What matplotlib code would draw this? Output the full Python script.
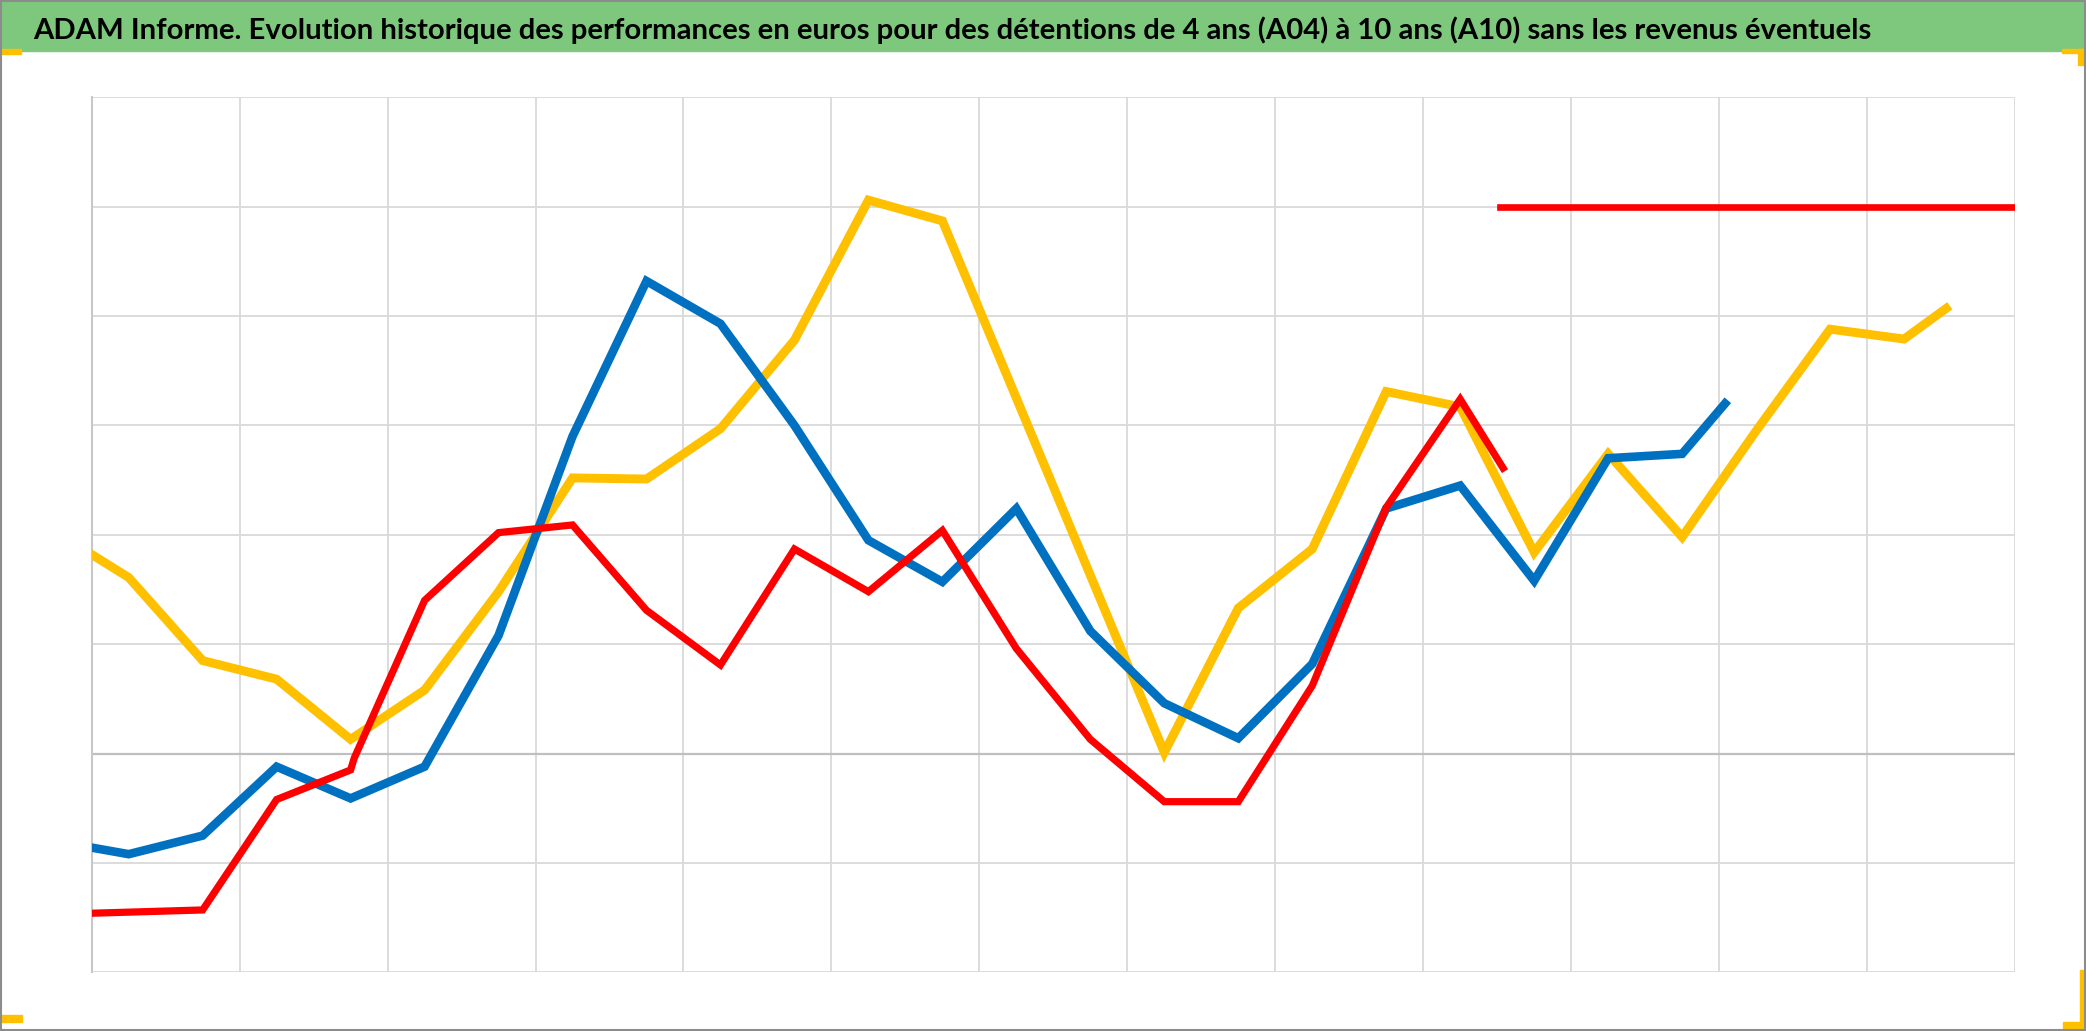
import matplotlib
matplotlib.use("Agg")
import matplotlib.pyplot as plt
from matplotlib.patches import Rectangle

W, H = 2086, 1031

title = ("ADAM Informe. Evolution historique des performances en euros pour des "
         "détentions de 4 ans (A04) à 10 ans (A10) sans les revenus éventuels")

# series (x in half-gridline steps, y in gridline units)
yellow_x = [0, 0.5, 1.5, 2.5, 3.5, 4.5, 5.5, 6.5, 7.5, 8.5, 9.5, 10.5, 11.5, 12.5,
            13.5, 14.5, 15.5, 16.5, 17.5, 18.5, 19.5, 20.5, 21.5, 22.5, 23.5, 24.5, 25.07]
yellow_y = [1.82, 1.61, 0.85, 0.68, 0.13, 0.58, 1.48, 2.52, 2.51, 2.97, 3.78, 5.06, 4.87, 3.25,
            1.63, 0.01, 1.33, 1.87, 3.31, 3.17, 1.84, 2.74, 1.98, 2.95, 3.88, 3.79, 4.07]

blue_x = [0, 0.5, 1.5, 2.5, 3.5, 4.5, 5.5, 6.5, 7.5, 8.5, 9.5, 10.5, 11.5, 12.5,
          13.5, 14.5, 15.5, 16.5, 17.5, 18.5, 19.5, 20.5, 21.5, 22.08]
blue_y = [-0.86, -0.92, -0.75, -0.12, -0.41, -0.12, 1.08, 2.9, 4.32, 3.93, 3.0, 1.95, 1.57, 2.24,
          1.12, 0.46, 0.14, 0.82, 2.24, 2.45, 1.58, 2.70, 2.74, 3.20]

red_x = [0, 0.5, 1.5, 2.5, 3.5, 3.55, 4.5, 5.5, 6.5, 7.5, 8.5, 9.5, 10.5, 11.5, 12.5,
         13.5, 14.5, 15.5, 16.5, 17.5, 18.5, 19.08]
red_y = [-1.46, -1.45, -1.43, -0.42, -0.15, -0.04, 1.40, 2.02, 2.09, 1.31, 0.81, 1.87, 1.48, 2.04,
         0.96, 0.13, -0.44, -0.44, 0.62, 2.25, 3.24, 2.61]

red_flat_x = [19.04, 26.0]
red_flat_y = [5.0, 5.0]

fig = plt.figure(figsize=(W / 100, H / 100), dpi=100)
fig.patch.set_facecolor("white")


def px_rect(x0, y0, x1, y1, color, **kw):
    # pixel box (y from top) -> figure fraction rectangle
    r = Rectangle((x0 / W, 1 - y1 / H), (x1 - x0) / W, (y1 - y0) / H,
                  transform=fig.transFigure, color=color, zorder=5, **kw)
    fig.patches.append(r)


# green title band
px_rect(0, 0, W, 51, "#7dc87c")
t = fig.text(33 / W, 1 - 39 / H, title, fontsize=20, fontweight="bold",
             family=["DejaVu Sans Condensed", "Lato", "DejaVu Sans"],
             fontstretch="condensed", color="black",
             ha="left", va="baseline", zorder=6)
fig.canvas.draw()
bb = t.get_window_extent()
t.set_fontsize(20 * 1842 / bb.width)

# orange corner handles
gold = "#ffc000"
px_rect(0, 49, 21, 54, gold)
px_rect(2062, 49, 2084, 53, gold)
px_rect(2078, 49, 2084, 65, gold)
px_rect(0, 1015, 22, 1022, gold)
px_rect(2080, 970, 2085, 1029, gold)
px_rect(2063, 1022, 2085, 1029, gold)

# thin grey frame
fig.patches.append(Rectangle((0.0005, 0.001), 0.999, 0.998, transform=fig.transFigure,
                             fill=False, edgecolor="#8c8c8c", lw=1.5, zorder=7))

ax = fig.add_axes([91.7 / W, (H - 972.3) / H, (2015 - 91.7) / W, (972.3 - 97.3) / H])
ax.set_xlim(0, 26)
ax.set_ylim(-2, 6)
ax.set_xticks(range(0, 27, 2))
ax.set_yticks(range(-2, 7))
ax.grid(True, color="#d9d9d9", lw=1.3)
ax.axhline(0, color="#bfbfbf", lw=1.6, zorder=1)
ax.tick_params(length=0, labelbottom=False, labelleft=False)
for s in ["top", "right", "bottom"]:
    ax.spines[s].set_visible(False)
ax.spines["left"].set_color("#c8c8c8")
ax.spines["left"].set_linewidth(1.5)
ax.set_axisbelow(True)

ax.plot(yellow_x, yellow_y, color="#ffc000", lw=6.4, solid_joinstyle="miter", zorder=3)
ax.plot(blue_x, blue_y, color="#0070c0", lw=6.2, solid_joinstyle="miter", zorder=4)
ax.plot(red_x, red_y, color="#ff0000", lw=5.2, solid_joinstyle="miter", zorder=5)
ax.plot(red_flat_x, red_flat_y, color="#ff0000", lw=4.8, zorder=5)

fig.savefig("out.png", dpi=100)
